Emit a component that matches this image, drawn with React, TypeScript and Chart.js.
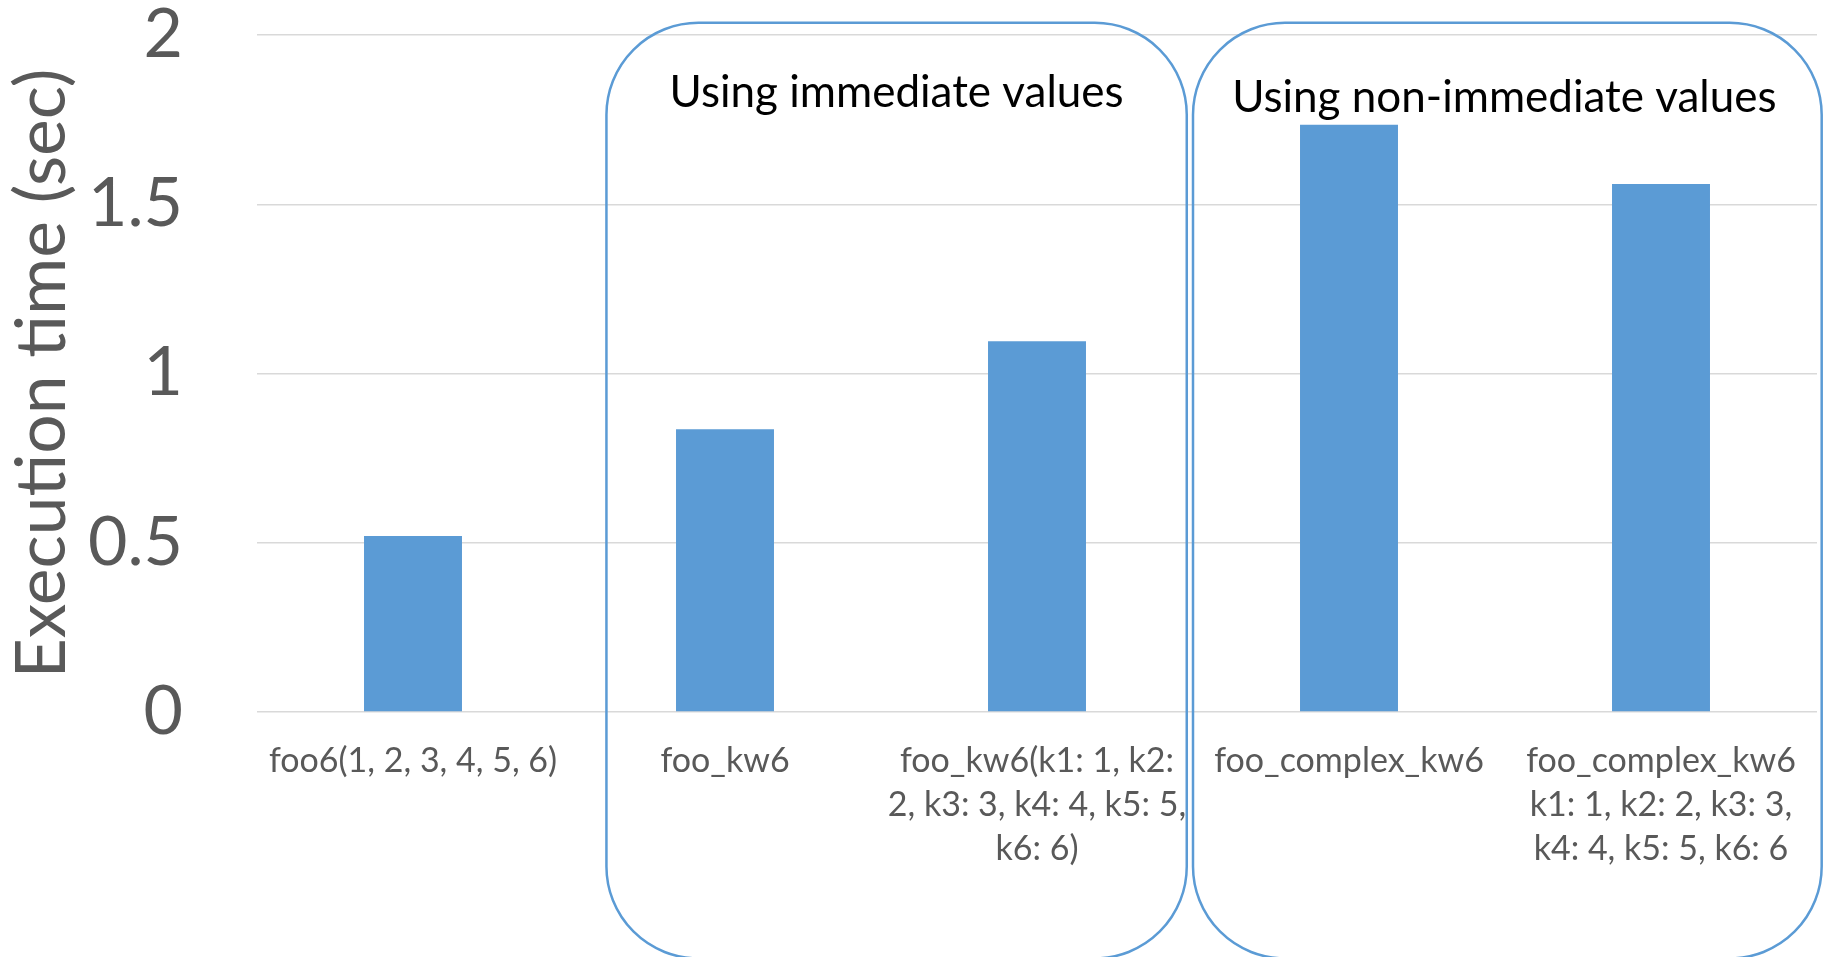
import React, { useEffect, useRef } from "react";
import { Chart, registerables } from "chart.js";

Chart.register(...registerables);

// Benchmark categories (multi-line labels are given as arrays of lines)
const categories: (string | string[])[] = [
  "foo6(1, 2, 3, 4, 5, 6)",
  "foo_kw6",
  ["foo_kw6(k1: 1, k2:", "2, k3: 3, k4: 4, k5: 5,", "k6: 6)"],
  "foo_complex_kw6",
  ["foo_complex_kw6", "k1: 1, k2: 2, k3: 3,", "k4: 4, k5: 5, k6: 6"],
];

// Execution time per call style, in seconds
const executionTimes = [0.52, 0.835, 1.095, 1.735, 1.56];

// Value axis
const yMin = 0;
const yMax = 2;
const yStep = 0.5;
const yAxisTitle = "Execution time (sec)";

// Captions of the two rounded group frames
const groupCaptions = ["Using immediate values", "Using non-immediate values"];

const FONT = "Lato, 'Open Sans', sans-serif";
const BAR_BLUE = "#5B9BD5";
const TEXT_GRAY = "#595959";

// Draws rounded frames around groups of categories, with a caption near the top
const groupFramesPlugin = {
  id: "groupFrames",
  afterDraw(chart: any, _args: any, opts: any) {
    const { ctx } = chart;
    const x = chart.scales.x;
    const y = chart.scales.y;
    ctx.save();
    opts.frames.forEach((f: any, i: number) => {
      const left = x.getPixelForValue(f.from);
      const right = x.getPixelForValue(f.to);
      const top = y.getPixelForValue(f.top);
      const bottom = y.getPixelForValue(f.bottom);
      ctx.beginPath();
      ctx.roundRect(left, top, right - left, bottom - top, opts.radius);
      ctx.lineWidth = opts.lineWidth;
      ctx.strokeStyle = opts.color;
      ctx.stroke();

      ctx.fillStyle = opts.captionColor;
      ctx.font = opts.captionFont;
      ctx.textAlign = "center";
      ctx.textBaseline = "alphabetic";
      ctx.fillText(groupCaptions[i], (left + right) / 2 + f.captionShift, top + f.captionOffset);
    });
    ctx.restore();
  },
};

export default function App() {
  const canvasRef = useRef<HTMLCanvasElement | null>(null);

  useEffect(() => {
    if (!canvasRef.current) return;
    const chart = new Chart(canvasRef.current, {
      type: "bar",
      data: {
        labels: categories,
        datasets: [
          {
            data: executionTimes,
            backgroundColor: BAR_BLUE,
            borderWidth: 0,
            barPercentage: 0.314,
            categoryPercentage: 1,
          },
        ],
      },
      options: {
        responsive: false,
        animation: false,
        devicePixelRatio: 1,
        layout: { padding: { left: 0, right: 8, top: 35, bottom: 0 } },
        plugins: {
          legend: { display: false },
          tooltip: { enabled: false },
          title: { display: false },
          groupFrames: {
            radius: 92,
            lineWidth: 2.5,
            color: BAR_BLUE,
            captionColor: "#000000",
            captionFont: `44px ${FONT}`,
            frames: [
              { from: 0.62, to: 2.48, top: 2.036, bottom: -0.728, captionOffset: 84, captionShift: 0 },
              { from: 2.5, to: 4.515, top: 2.036, bottom: -0.728, captionOffset: 89, captionShift: -3 },
            ],
          },
        } as any,
        scales: {
          x: {
            grid: { display: false, drawTicks: false },
            border: { display: false },
            ticks: {
              autoSkip: false,
              maxRotation: 0,
              minRotation: 0,
              padding: 27,
              color: TEXT_GRAY,
              font: { family: FONT, size: 34, lineHeight: "44px" },
            },
            afterFit(scale: any) {
              scale.height = 245;
            },
          },
          y: {
            min: yMin,
            max: yMax,
            grid: { color: "#D9D9D9", lineWidth: 1.5, drawTicks: false },
            border: { display: false },
            ticks: {
              stepSize: yStep,
              padding: 74,
              color: TEXT_GRAY,
              font: { family: FONT, size: 68 },
              callback: (v: any) => String(Number(v)),
            },
            title: {
              display: true,
              text: yAxisTitle,
              color: TEXT_GRAY,
              font: { family: FONT, size: 69.5, lineHeight: 1.2 },
              padding: { top: 1, bottom: 0 },
            },
            afterFit(scale: any) {
              scale.width = 257;
              scale.paddingTop = 0;
              scale.paddingBottom = 0;
            },
          },
        },
      },
      plugins: [groupFramesPlugin],
    });
    return () => chart.destroy();
  }, []);

  return (
    <div
      style={{
        position: "absolute",
        left: 0,
        top: 0,
        width: 1825,
        height: 957,
        background: "#ffffff",
        overflow: "hidden",
      }}
    >
      <canvas ref={canvasRef} width={1825} height={957} style={{ display: "block" }} />
    </div>
  );
}
